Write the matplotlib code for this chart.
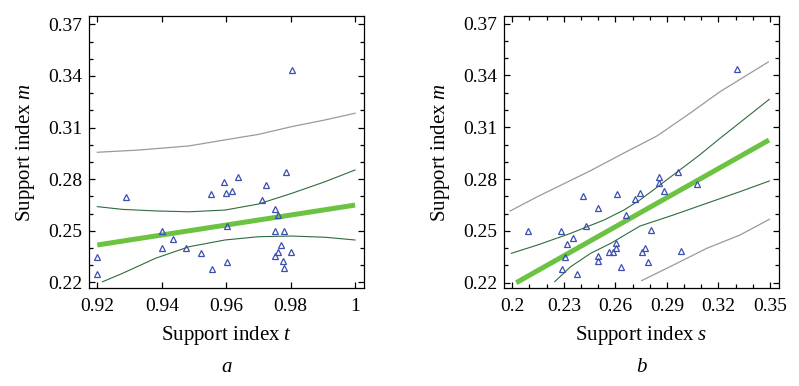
import matplotlib
matplotlib.use("Agg")
import matplotlib.pyplot as plt
import numpy as np
from matplotlib.ticker import MultipleLocator

plt.rcParams['font.family'] = ['Liberation Serif', 'DejaVu Serif']
plt.rcParams['mathtext.fontset'] = 'custom'
plt.rcParams['mathtext.rm'] = 'Liberation Serif'
plt.rcParams['mathtext.it'] = 'Liberation Serif:italic'

# ---------------- Panel a data (support index t vs m) ----------------
a_t = [0.9288, 0.9200, 0.9200, 0.9400, 0.9400, 0.9435, 0.9474, 0.9523, 0.9555, 0.9554,
       0.9592, 0.9600, 0.9602, 0.9602, 0.9617, 0.9638, 0.9710, 0.9725, 0.9752, 0.9762,
       0.9786, 0.9752, 0.9780, 0.9770, 0.9762, 0.9752, 0.9775, 0.9780, 0.9801, 0.9804]
a_m = [0.2694, 0.2349, 0.2247, 0.2498, 0.2399, 0.2452, 0.2398, 0.2372, 0.2279, 0.2715,
       0.2781, 0.2719, 0.2529, 0.2320, 0.2729, 0.2814, 0.2678, 0.2766, 0.2626, 0.2590,
       0.2841, 0.2500, 0.2500, 0.2417, 0.2378, 0.2353, 0.2324, 0.2285, 0.2374, 0.3434]

a_fit_x = [0.92, 1.00]
a_fit_y = [0.2417, 0.2649]
a_ci_up_x = [0.92, 0.9278, 0.9381, 0.9485, 0.9596, 0.9700, 0.9803, 0.9907, 1.0]
a_ci_up_y = [0.2640, 0.2624, 0.2615, 0.2610, 0.2620, 0.2655, 0.2717, 0.2785, 0.2853]
a_ci_lo_x = [0.9216, 0.9278, 0.9381, 0.9485, 0.9596, 0.9700, 0.9803, 0.9907, 1.0]
a_ci_lo_y = [0.2203, 0.2252, 0.2340, 0.2407, 0.2446, 0.2465, 0.2469, 0.2462, 0.2446]
a_pi_up_x = [0.92, 0.9329, 0.9485, 0.9596, 0.9700, 0.9803, 0.9907, 1.0]
a_pi_up_y = [0.2956, 0.2969, 0.2993, 0.3028, 0.3060, 0.3105, 0.3144, 0.3183]

# ---------------- Panel b data (support index s vs m) ----------------
b_s = [0.2091, 0.2282, 0.2413, 0.2499, 0.2427, 0.2355, 0.2320, 0.2305, 0.2288, 0.2375,
       0.2499, 0.2499, 0.2565, 0.2588, 0.2604, 0.2604, 0.2608, 0.2631, 0.2662, 0.2712,
       0.2743, 0.2755, 0.2772, 0.2792, 0.2806, 0.2854, 0.2854, 0.2885, 0.2963, 0.2980,
       0.3077, 0.3310]
b_m = [0.2501, 0.2501, 0.2702, 0.2631, 0.2528, 0.2457, 0.2422, 0.2351, 0.2281, 0.2252,
       0.2355, 0.2326, 0.2378, 0.2378, 0.2403, 0.2428, 0.2715, 0.2293, 0.2592, 0.2683,
       0.2721, 0.2378, 0.2403, 0.2322, 0.2505, 0.2814, 0.2779, 0.2731, 0.2841, 0.2384,
       0.2770, 0.3436]

b_fit_x = [0.2023, 0.3494]
b_fit_y = [0.2200, 0.3026]
b_ci_up_x = [0.1994, 0.2146, 0.2340, 0.2534, 0.2650, 0.2743, 0.2821, 0.3083, 0.3209, 0.3496]
b_ci_up_y = [0.2370, 0.2418, 0.2486, 0.2563, 0.2621, 0.2679, 0.2737, 0.2934, 0.3036, 0.3262]
b_ci_lo_x = [0.2247, 0.2340, 0.2456, 0.2573, 0.2743, 0.2937, 0.3132, 0.3325, 0.3496]
b_ci_lo_y = [0.2206, 0.2293, 0.2370, 0.2428, 0.2528, 0.2592, 0.2660, 0.2727, 0.2789]
b_pi_up_x = [0.1987, 0.2146, 0.2452, 0.2646, 0.2841, 0.3034, 0.3209, 0.3490]
b_pi_up_y = [0.2615, 0.2698, 0.2847, 0.2949, 0.3049, 0.3181, 0.3306, 0.3478]
b_pi_lo_x = [0.2753, 0.2937, 0.3132, 0.3325, 0.3496]
b_pi_lo_y = [0.2212, 0.2302, 0.2399, 0.2476, 0.2567]

y_ticks = [0.22, 0.25, 0.28, 0.31, 0.34, 0.37]
y_labels = ["0.22", "0.25", "0.28", "0.31", "0.34", "0.37"]
a_xticks = [0.92, 0.94, 0.96, 0.98, 1.0]
a_xlabels = ["0.92", "0.94", "0.96", "0.98", "1"]
b_xticks = [0.20, 0.23, 0.26, 0.29, 0.32, 0.35]
b_xlabels = ["0.2", "0.23", "0.26", "0.29", "0.32", "0.35"]

C_FIT = '#6cc241'
C_CI = '#2f6b3c'
C_PI = '#9a9a9a'
C_PT = '#3a4fae'

fig = plt.figure(figsize=(7.99, 3.86), dpi=100)
W, H = 799.0, 386.0

def make_ax(l, r, t, b):
    return fig.add_axes([l / W, 1 - b / H, (r - l) / W, (b - t) / H])

axa = make_ax(89, 364, 16, 288)
axb = make_ax(504, 779.3, 16, 288)

FS_T = 14
FS_L = 15

def style(ax, xt, xl, xminor):
    ax.set_yticks(y_ticks)
    ax.set_yticklabels(y_labels, fontsize=FS_T)
    ax.set_xticks(xt)
    ax.set_xticklabels(xl, fontsize=FS_T)
    ax.yaxis.set_minor_locator(MultipleLocator(0.01))
    if xminor:
        ax.xaxis.set_minor_locator(MultipleLocator(0.01))
    ax.tick_params(which='both', direction='in', top=True, right=True, width=0.9, colors='black')
    ax.tick_params(which='major', length=4.5)
    ax.tick_params(axis='y', which='major', pad=5)
    ax.tick_params(axis='x', which='major', pad=7)
    ax.tick_params(which='minor', length=3.2)
    for sp in ax.spines.values():
        sp.set_linewidth(0.9)
        sp.set_color('black')

# Panel a
axa.plot(a_pi_up_x, a_pi_up_y, color=C_PI, lw=0.9)
axa.plot(a_ci_up_x, a_ci_up_y, color=C_CI, lw=0.8)
axa.plot(a_ci_lo_x, a_ci_lo_y, color=C_CI, lw=0.8)
axa.plot(a_fit_x, a_fit_y, color=C_FIT, lw=3.6, solid_capstyle='butt')
axa.plot(a_t, a_m, linestyle='none', marker='^', markersize=5, markerfacecolor='none',
         markeredgecolor=C_PT, markeredgewidth=0.9)
axa.set_xlim(0.91742, 1.00277)
axa.set_ylim(0.21669, 0.37483)
style(axa, a_xticks, a_xlabels, False)
axa.set_xlabel('Support index $t$', fontsize=FS_L)
axa.set_ylabel('Support index $m$', fontsize=FS_L)

# Panel b
axb.plot(b_pi_up_x, b_pi_up_y, color=C_PI, lw=0.9)
axb.plot(b_pi_lo_x, b_pi_lo_y, color=C_PI, lw=0.9)
axb.plot(b_ci_up_x, b_ci_up_y, color=C_CI, lw=0.8)
axb.plot(b_ci_lo_x, b_ci_lo_y, color=C_CI, lw=0.8)
axb.plot(b_fit_x, b_fit_y, color=C_FIT, lw=3.6, solid_capstyle='butt')
axb.plot(b_s, b_m, linestyle='none', marker='^', markersize=5, markerfacecolor='none',
         markeredgecolor=C_PT, markeredgewidth=0.9)
axb.set_xlim(0.19517, 0.35541)
axb.set_ylim(0.21693, 0.37443)
style(axb, b_xticks, b_xlabels, True)
axb.set_xlabel('Support index $s$', fontsize=FS_L)
axb.set_ylabel('Support index $m$', fontsize=FS_L)

for ax in (axa, axb):
    ax.yaxis.set_label_coords(-0.23, 0.5)
    ax.xaxis.set_label_coords(0.5, -0.173)
    ax.xaxis.label.set_va('center')
    ax.yaxis.label.set_va('center')

fig.text(226.5 / W, 1 - 367 / H, 'a', fontsize=FS_L, style='italic', ha='center', va='center')
fig.text(641.5 / W, 1 - 367 / H, 'b', fontsize=FS_L, style='italic', ha='center', va='center')

fig.savefig('out.png', dpi=100)
